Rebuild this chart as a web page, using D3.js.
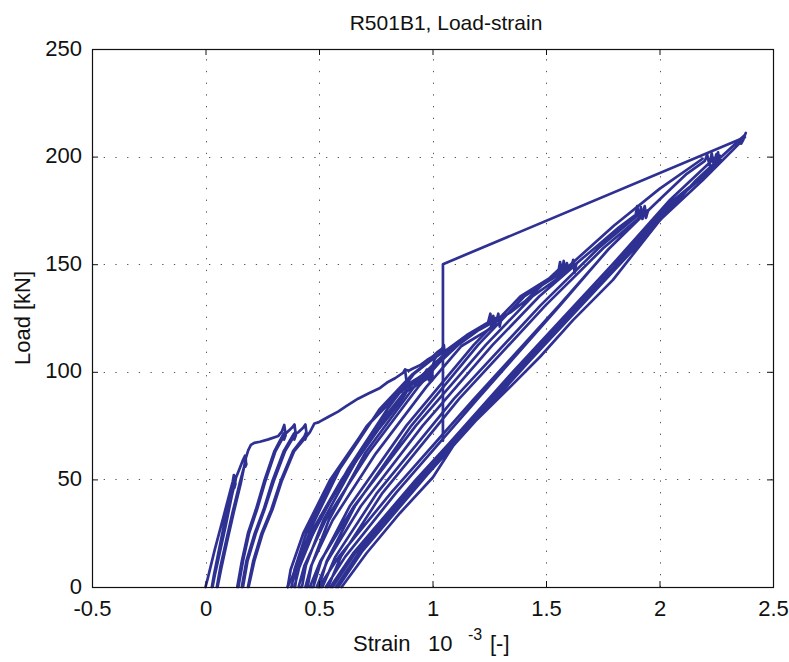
<!DOCTYPE html>
<html>
<head>
<meta charset="utf-8">
<script src="https://cdn.jsdelivr.net/npm/d3@7"></script>
<style>
  html, body { margin: 0; padding: 0; background: #fff; }
  svg { display: block; }
  text { font-family: "Liberation Sans", Arial, Helvetica, sans-serif; fill: #111; }
</style>
</head>
<body>
<svg id="chart" width="789" height="662"></svg>
<script>
// ---------------- DATA (strain 10^-3, load kN) ----------------
const xTicks = [-0.5, 0, 0.5, 1, 1.5, 2, 2.5];
const xTickLabels = ["-0.5", "0", "0.5", "1", "1.5", "2", "2.5"];
const yTicks = [0, 50, 100, 150, 200, 250];
const yTickLabels = ["0", "50", "100", "150", "200", "250"];

const earlyCycles = [
  [0,0],[0.01,4],[0.04,17],[0.08,33],[0.11,45],[0.12,49],[0.125,52],[0.132,48],[0.127,46],[0.133,50],
  [0.13,49],[0.105,40],[0.08,28],[0.055,15],[0.038,6],[0.028,0],
  [0.031,0],[0.042,6],[0.065,17],[0.09,29],[0.115,42],[0.135,51],
  [0.15,55],[0.165,59],[0.174,61],[0.18,57],[0.176,56],[0.178,59],
  [0.15,48],[0.12,35],[0.09,21],[0.065,9],[0.05,0],
  [0.053,0],[0.07,9],[0.095,21],[0.125,35],[0.155,48],[0.178,60],
  [0.188,63.5],[0.2,66],[0.215,67],[0.24,67.5],[0.277,68.6],[0.321,70.2],[0.336,72.2],[0.347,75.3],[0.353,70.5],[0.346,68.5],[0.351,72],[0.343,71],
  [0.303,63],[0.258,49],[0.222,36],[0.187,25],[0.16,12],[0.14,0],
  [0.145,0],[0.165,12],[0.192,25],[0.227,36],[0.263,49],[0.308,63],[0.35,71],[0.37,73],[0.385,74.5],[0.392,75.5],[0.398,70.5],[0.391,68.5],[0.396,72],[0.388,71],
  [0.344,63],[0.294,49],[0.256,36],[0.217,25],[0.18,12],[0.16,0],
  [0.165,0],[0.185,12],[0.222,25],[0.26,36],[0.3,49],[0.35,63],[0.395,71],[0.41,72],[0.43,74],[0.44,75.5],[0.446,70.5],[0.439,68.5],[0.444,72],[0.436,70],
  [0.385,63],[0.33,49],[0.29,36],[0.247,25],[0.21,12],[0.187,0],
  [0.19,0],[0.215,12],[0.252,25],[0.295,36],[0.335,49],[0.39,63],[0.445,70],[0.46,72],[0.48,76],[0.497,76.5],[0.54,79],[0.584,81.5],[0.62,84],[0.672,87.5],[0.72,90],[0.769,92.5],[0.80,95],[0.835,97],[0.87,99.5],[0.879,101],[0.885,96],[0.882,90],[0.86,86],[0.84,83.5],
  [0.76,73],[0.66,58],[0.55,40],[0.46,22],[0.40,9],[0.375,3],[0.362,0]
];

const envelope100to110 = [
  [0.879,101],[0.895,100.5],[0.914,101.5],[0.945,103],[0.976,105.5],[1.0,107],[1.02,109],[1.046,111]
];

const cycles100 = [
  [0.362,0],[0.375,8],[0.431,25],[0.55,50],[0.714,75],[0.852,90],[0.915,95],[0.96,98],[0.975,101],[0.985,96],[0.99,101],[0.998,96],[1.0,100],[0.995,98],
  [0.872,90],[0.76,75],[0.6,50],[0.464,25],[0.397,8],[0.378,0],
  [0.38,0],[0.392,8],[0.444,25],[0.557,50],[0.712,75],[0.844,90],[0.903,95],[0.965,99],[0.975,101],[0.985,97],[1.01,106],[1.04,110],[1.05,112.5],[1.055,107],[1.05,110],
  [0.918,99],[0.80,82.5],[0.629,55],[0.484,27.5],[0.412,8.8],[0.392,0],
  [0.395,0],[0.405,8.8],[0.465,27.5],[0.592,55],[0.766,82.5],[0.913,99],[0.98,104.5],[1.06,110]
];

const cycles125 = [
  [1.06,110],[1.15,117],[1.245,123],[1.255,127],[1.26,121],[1.268,126],[1.272,121],[1.28,125],
  [1.098,112.5],[0.943,93.75],[0.72,62.5],[0.53,31.25],[0.436,10],[0.41,0],
  [0.425,0],[0.442,10],[0.52,31.25],[0.683,62.5],[0.907,93.75],[1.096,112.5],[1.182,118.75],[1.285,125],[1.29,127],[1.296,121],[1.303,125],[1.30,123],
  [1.128,112],[0.973,93],[0.75,62],[0.56,31],[0.466,10],[0.44,0],
  [0.45,0],[0.467,10],[0.543,31],[0.705,62.5],[0.926,94],[1.113,112.5],[1.198,119],[1.30,125]
];

const cycles150 = [
  [1.30,125],[1.342,127.5],[1.41,133],[1.474,139.4],[1.53,145],[1.556,147.5],[1.562,151],[1.57,146],[1.578,151.5],[1.585,146],[1.592,150.5],[1.60,147],
  [1.44,135],[1.235,112.5],[0.927,75],[0.654,37.5],[0.506,12],[0.46,0],
  [0.475,0],[0.509,12],[0.635,37.5],[0.885,75],[1.182,112.5],[1.387,135],[1.615,150],[1.62,152],[1.626,146],[1.633,150],
  [1.47,135],[1.265,112.5],[0.957,75],[0.684,37.5],[0.536,12],[0.49,0],
  [0.50,0],[0.534,12],[0.658,37.5],[0.907,75],[1.201,112.5],[1.404,135],[1.63,150]
];

const cycles175 = [
  [1.63,150],[1.72,158],[1.82,167],[1.895,173],[1.902,177],[1.91,171],[1.918,176.5],[1.925,171],[1.932,176],[1.94,171.5],[1.95,175],
  [1.776,157],[1.559,131],[1.18,87],[0.819,44],[0.587,14],[0.50,0],
  [0.515,0],[0.572,14],[0.756,43.75],[1.095,87.5],[1.477,131],[1.732,157.5],[1.93,175],[1.935,177],[1.942,172],[1.948,175],
  [1.775,157],[1.563,131],[1.195,87],[0.841,44],[0.615,14],[0.53,0],
  [0.54,0],[0.596,14],[0.78,43.75],[1.118,87.5],[1.499,131],[1.753,157.5],[1.95,175]
];

const cycles200 = [
  [1.95,175],[2.02,182],[2.12,192],[2.20,198],[2.21,201],[2.22,196],[2.23,201.5],[2.24,196],[2.25,201],[2.258,196.5],[2.265,200.5],[2.27,198],
  [2.064,179],[1.806,149],[1.358,99.5],[0.928,50],[0.653,16],[0.55,0],
  [0.56,0],[0.661,16],[0.932,50],[1.354,100],[1.794,150],[2.047,180],[2.25,200],[2.258,202],[2.262,197],
  [2.053,179],[1.801,149],[1.365,99.5],[0.945,50],[0.676,16],[0.575,0],
  [0.585,0],[0.692,16.8],[0.979,52.5],[1.427,105],[1.892,157.5],[2.161,189],[2.376,210],[2.38,211],[2.36,206],[2.37,208],
  [2.19,189],[2.002,170.5],[1.795,142.7],[1.619,124],[1.474,107],[1.328,91.5],[1.178,76],[1.108,68.3],[1.002,51],[0.857,34.4],[0.71,15.8],[0.60,0]
];

const bypassReload = [
  [1.60,149],[1.80,168],[2.0,185],[2.19,199]
];

const jumpLine = [
  [1.046,68],[1.046,150],[2.376,209]
];

const allPaths = [earlyCycles, envelope100to110, cycles100, cycles125, cycles150, cycles175, cycles200, bypassReload, jumpLine];

// ---------------- DRAWING ----------------
const svg = d3.select("#chart");
svg.append("rect").attr("width", 789).attr("height", 662).attr("fill", "#fff");

const pLeft = 92, pRight = 773, pTop = 49, pBottom = 587;
const x = d3.scaleLinear().domain([-0.5, 2.5]).range([pLeft, pRight]);
const y = d3.scaleLinear().domain([0, 250]).range([pBottom, pTop]);

// grid
const grid = svg.append("g").attr("stroke", "#555").attr("stroke-width", 1)
  .attr("stroke-dasharray", "1.3,10.4");
grid.selectAll("line.gx").data(xTicks.slice(1, -1)).enter().append("line")
  .attr("x1", d => Math.round(x(d)) + 0.5).attr("x2", d => Math.round(x(d)) + 0.5)
  .attr("y1", pBottom).attr("y2", pTop);
grid.selectAll("line.gy").data(yTicks.slice(1, -1)).enter().append("line")
  .attr("y1", d => Math.round(y(d)) + 0.5).attr("y2", d => Math.round(y(d)) + 0.5)
  .attr("x1", pLeft).attr("x2", pRight);

// data lines
const line = d3.line().x(d => x(d[0])).y(d => y(d[1]));
svg.append("g").selectAll("path").data(allPaths).enter().append("path")
  .attr("d", line)
  .attr("fill", "none")
  .attr("stroke", "#2e3192")
  .attr("stroke-width", 2.7)
  .attr("stroke-linejoin", "round")
  .attr("stroke-linecap", "round");

// axes
function styleAxis(g) {
  g.select(".domain").remove();
  g.selectAll(".tick line").attr("stroke", "#111").attr("stroke-width", 1);
  g.selectAll(".tick text").style("font-size", "22px").attr("fill", "#111");
}
svg.append("g").attr("transform", `translate(0,${pBottom})`)
  .call(d3.axisBottom(x).tickValues(xTicks).tickSize(-6).tickPadding(13)
    .tickFormat((d, i) => xTickLabels[i]))
  .call(styleAxis);
const yAxisG = svg.append("g").attr("transform", `translate(${pLeft},0)`)
  .call(d3.axisLeft(y).tickValues(yTicks).tickSize(-6).tickPadding(10)
    .tickFormat((d, i) => yTickLabels[i]))
  .call(styleAxis);
yAxisG.selectAll(".tick text").attr("dy", "0.28em");
svg.append("g").attr("transform", `translate(0,${pTop})`)
  .call(d3.axisTop(x).tickValues(xTicks).tickSize(-6).tickFormat(""))
  .call(styleAxis);
svg.append("g").attr("transform", `translate(${pRight},0)`)
  .call(d3.axisRight(y).tickValues(yTicks).tickSize(-6).tickFormat(""))
  .call(styleAxis);

// frame
svg.append("rect").attr("x", pLeft + 0.5).attr("y", pTop + 0.5)
  .attr("width", pRight - pLeft).attr("height", pBottom - pTop)
  .attr("fill", "none").attr("stroke", "#111").attr("stroke-width", 1.2);

// title
svg.append("text").attr("x", 446).attr("y", 30)
  .attr("text-anchor", "middle").style("font-size", "21px")
  .text("R501B1, Load-strain");

// x label
svg.append("text").attr("x", 353).attr("y", 651).style("font-size", "22px").text("Strain");
svg.append("text").attr("x", 428).attr("y", 651).style("font-size", "22px").text("10");
svg.append("text").attr("x", 468).attr("y", 640).style("font-size", "16px").text("-3");
svg.append("text").attr("x", 490).attr("y", 651).style("font-size", "22px").text("[-]");

// y label
svg.append("text").attr("transform", "translate(30,318) rotate(-90)")
  .attr("text-anchor", "middle").style("font-size", "22px")
  .text("Load [kN]");
</script>
</body>
</html>
